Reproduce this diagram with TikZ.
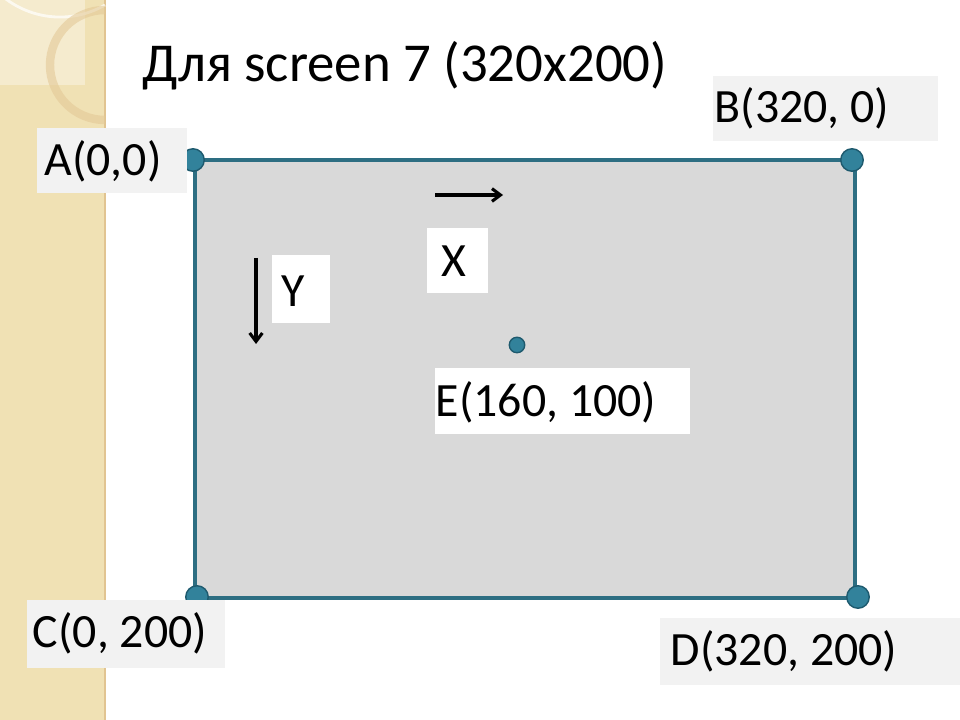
\documentclass[tikz,border=0pt]{standalone}
\usepackage{fontspec}
\setmainfont{Carlito}
\usetikzlibrary{arrows.meta}
\begin{document}
\begin{tikzpicture}[x=0.025cm,y=-0.025cm,
  lbl/.style={inner sep=0pt,font=\fontsize{34}{34}\selectfont,anchor=center},
  dot/.style={circle,fill=dotc,draw=dotd,line width=1pt,inner sep=0pt,minimum size=#1}]
\definecolor{edgec}{RGB}{45,110,130}
\definecolor{dotc}{RGB}{50,130,155}
\definecolor{dotd}{RGB}{30,90,110}
\definecolor{beige}{RGB}{240,225,180}
\definecolor{lbg}{RGB}{242,242,242}
\useasboundingbox (0,0) rectangle (960,720);
\fill[white] (0,0) rectangle (960,720);
% left decorative strip
\fill[beige] (0,0) rectangle (105,720);
\draw[beige!70!brown,line width=1pt] (105,0) -- (105,720);
\fill[white,opacity=0.35] (0,0) rectangle (85,85);
\draw[white,opacity=0.7,line width=2pt] (105,5) arc[start angle=60,end angle=230,radius=90];
\draw[beige!75!brown,line width=6pt,opacity=0.6] (105,120) arc[start angle=90,end angle=270,radius=55];
% rectangle
\draw[edgec,fill=black!15,line width=2.2pt] (195,160) rectangle (855,598);
\node[dot=16pt] (A) at (193,160) {};
\node[dot=16pt] (B) at (852,160) {};
\node[dot=16pt] (C) at (197,597) {};
\node[dot=16pt] (D) at (858,597) {};
\node[dot=11pt] (E) at (517,345) {};
% title
\node[font=\fontsize{39}{39}\selectfont] (t) at (405,66) {Для screen 7 (320x200)};
% labels
\fill[lbg] (37,128) rectangle (187,193); \node[lbl] (la) at (103,161) {A(0,0)};
\fill[lbg] (713,76) rectangle (938,141); \node[lbl] (lb) at (802,108) {B(320, 0)};
\fill[lbg] (27,600) rectangle (225,668); \node[lbl] (lc) at (120,633) {C(0, 200)};
\fill[lbg] (660,618) rectangle (960,685); \node[lbl] (ld) at (784,651) {D(320, 200)};
\fill[white] (435,368) rectangle (690,434); \node[lbl] (le) at (546,402) {E(160, 100)};
\fill[white] (427,228) rectangle (488,293); \node[lbl] (lx) at (454,261) {X};
\fill[white] (272,255) rectangle (330,323); \node[lbl] (ly) at (293,291) {Y};
% arrows
\coordinate (x1) at (435,195); \coordinate (x2) at (503,195);
\coordinate (y1) at (256,258); \coordinate (y2) at (256,344);
\draw[-{Straight Barb[length=6pt,width=9pt]},line width=2.2pt] (x1) -- (x2);
\draw[-{Straight Barb[length=6pt,width=9pt]},line width=2.2pt] (y1) -- (y2);
\end{tikzpicture}
\end{document}
